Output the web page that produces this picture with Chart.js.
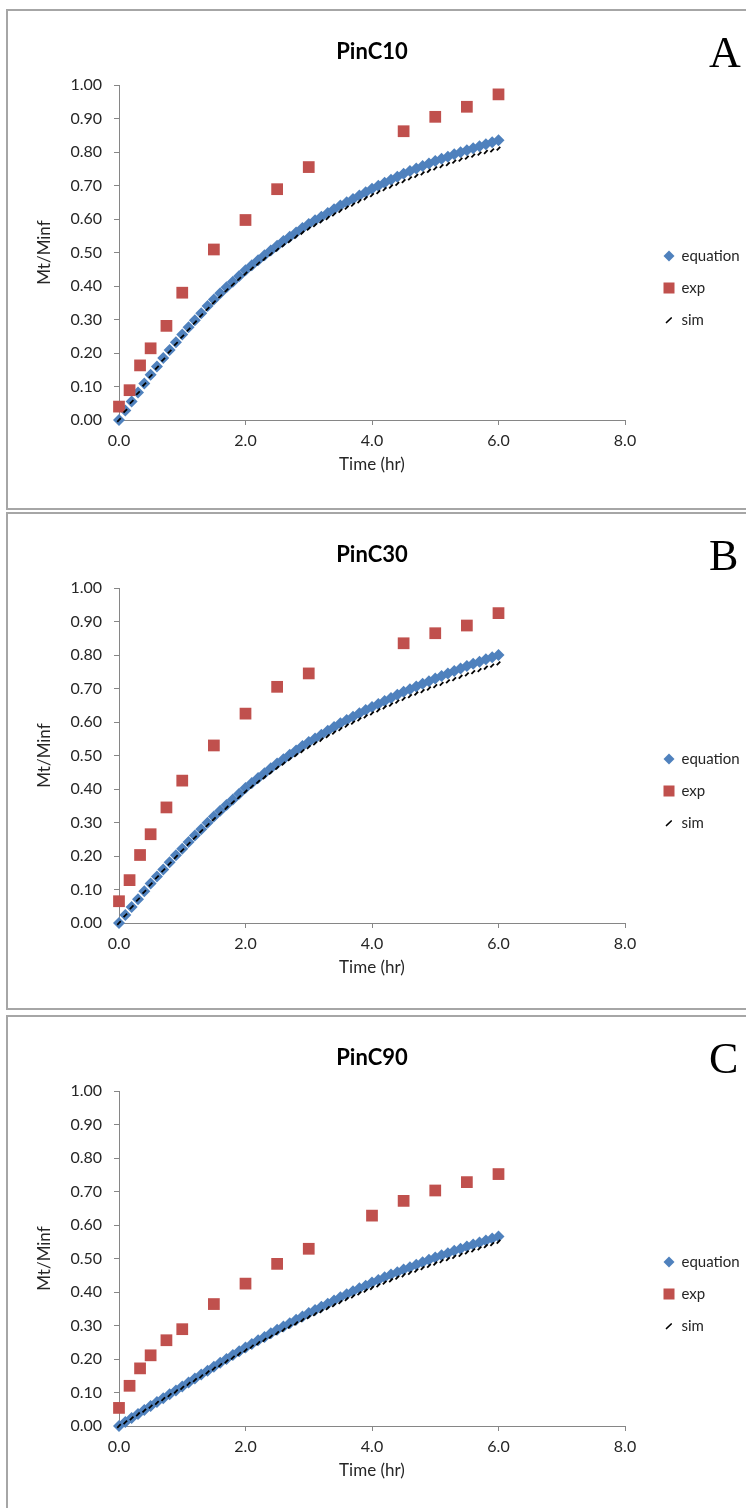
<!DOCTYPE html>
<html><head><meta charset="utf-8">
<script src="https://cdn.jsdelivr.net/npm/chart.js@4.4.1/dist/chart.umd.min.js"></script>
<style>
html,body{margin:0;padding:0;background:#fff;width:746px;height:1508px;overflow:hidden;position:relative;}
.frame{position:absolute;left:6px;width:800px;border:2px solid #a6a6a6;box-sizing:border-box;}
.cv{position:absolute;left:8px;}
.letter{position:absolute;left:709px;font-family:"Liberation Serif","DejaVu Serif",serif;font-size:44px;line-height:44px;color:#000;}
</style></head><body>
<div class="frame" style="top:9px;height:501px;"></div>
<div class="frame" style="top:512px;height:498px;"></div>
<div class="frame" style="top:1015px;height:520px;"></div>
<canvas id="cA" class="cv" width="760" height="499" style="top:10px"></canvas>
<canvas id="cB" class="cv" width="760" height="496" style="top:513px"></canvas>
<canvas id="cC" class="cv" width="760" height="492" style="top:1016px"></canvas>
<div class="letter" style="top:31px">A</div>
<div class="letter" style="top:534px">B</div>
<div class="letter" style="top:1037px">C</div>
<script>
const timeEq = [0,0.1,0.2,0.3,0.4,0.5,0.6,0.7,0.8,0.9,1.0,1.1,1.2,1.3,1.4,1.5,1.6,1.7,1.8,1.9,2.0,
  2.1,2.2,2.3,2.4,2.5,2.6,2.7,2.8,2.9,3.0,3.1,3.2,3.3,3.4,3.5,3.6,3.7,3.8,3.9,4.0,
  4.1,4.2,4.3,4.4,4.5,4.6,4.7,4.8,4.9,5.0,5.1,5.2,5.3,5.4,5.5,5.6,5.7,5.8,5.9,6.0];

const eqA = [0,0.028,0.055,0.082,0.109,0.135,
  0.160,0.185,0.209,0.232,0.255, 0.277,0.298,0.319,0.340,0.360,
  0.378,0.396,0.413,0.430,0.447, 0.462,0.477,0.492,0.506,0.520,
  0.534,0.547,0.560,0.573,0.585, 0.596,0.607,0.618,0.629,0.640,
  0.650,0.660,0.670,0.680,0.690, 0.699,0.708,0.717,0.726,0.735,
  0.743,0.751,0.758,0.766,0.773, 0.780,0.786,0.793,0.799,0.805,
  0.811,0.817,0.823,0.829,0.835];
const simA = [0,0.027,0.054,0.080,0.106,0.131,0.156,0.180,0.204,0.227,0.249,
  0.270,0.291,0.312,0.332,0.351, 0.369,0.387,0.404,0.421,0.437,
  0.452,0.467,0.481,0.495,0.508, 0.521,0.534,0.547,0.559,0.571,
  0.582,0.593,0.603,0.614,0.624, 0.634,0.643,0.653,0.662,0.671,
  0.680,0.689,0.697,0.705,0.713, 0.721,0.729,0.736,0.744,0.751,
  0.758,0.764,0.771,0.777,0.783, 0.789,0.795,0.800,0.805,0.810];
const expTimeA = [0,0.167,0.333,0.5,0.75,1,1.5,2,2.5,3,4.5,5,5.5,6];
const expA = [0.040,0.089,0.163,0.214,0.281,0.380,0.509,0.597,0.689,0.755,0.862,0.905,0.935,0.972];

const eqB = [0,0.024,0.048,0.071,0.095,0.118,
  0.139,0.160,0.181,0.202,0.222, 0.242,0.261,0.280,0.299,0.318,
  0.335,0.352,0.369,0.386,0.403, 0.418,0.433,0.447,0.462,0.476,
  0.489,0.502,0.515,0.528,0.540, 0.551,0.562,0.574,0.585,0.596,
  0.606,0.616,0.626,0.636,0.645, 0.654,0.663,0.672,0.681,0.690,
  0.698,0.706,0.714,0.722,0.730, 0.737,0.745,0.752,0.760,0.767,
  0.774,0.780,0.787,0.793,0.800];
const simB = [0,0.023,0.047,0.070,0.093,0.115,0.136,0.157,0.177,0.197,0.217,
  0.236,0.255,0.274,0.292,0.310, 0.327,0.344,0.360,0.376,0.392,
  0.407,0.421,0.435,0.449,0.463, 0.476,0.489,0.501,0.513,0.525,
  0.536,0.547,0.558,0.568,0.579, 0.589,0.598,0.608,0.617,0.626,
  0.635,0.644,0.652,0.661,0.669, 0.677,0.685,0.692,0.700,0.707,
  0.714,0.721,0.728,0.735,0.742, 0.749,0.755,0.762,0.768,0.775];
const expTimeB = [0,0.167,0.333,0.5,0.75,1,1.5,2,2.5,3,4.5,5,5.5,6];
const expB = [0.065,0.128,0.203,0.265,0.345,0.425,0.530,0.625,0.705,0.745,0.835,0.865,0.888,0.925];

const eqC = [0,0.012,0.024,0.036,0.048,0.060,
  0.072,0.083,0.095,0.106,0.118, 0.130,0.142,0.154,0.165,0.177,
  0.189,0.200,0.212,0.223,0.234, 0.245,0.256,0.266,0.277,0.287,
  0.297,0.307,0.317,0.327,0.337, 0.346,0.356,0.365,0.375,0.384,
  0.393,0.402,0.411,0.419,0.428, 0.436,0.444,0.452,0.459,0.467,
  0.474,0.481,0.489,0.496,0.503, 0.510,0.516,0.523,0.529,0.536,
  0.542,0.548,0.554,0.560,0.566];
const simC = [0,0.011,0.023,0.035,0.046,0.058,0.069,0.080,0.092,0.103,0.114,
  0.126,0.137,0.148,0.160,0.171, 0.182,0.193,0.204,0.215,0.226,
  0.237,0.247,0.257,0.267,0.277, 0.287,0.297,0.306,0.316,0.325,
  0.334,0.343,0.352,0.361,0.370, 0.379,0.387,0.396,0.404,0.412,
  0.420,0.428,0.435,0.443,0.450, 0.457,0.464,0.471,0.478,0.485,
  0.492,0.498,0.505,0.511,0.518, 0.524,0.530,0.537,0.543,0.550];
const expTimeC = [0,0.167,0.333,0.5,0.75,1,1.5,2,2.5,3,4,4.5,5,5.5,6];
const expC = [0.054,0.120,0.172,0.211,0.256,0.289,0.364,0.425,0.484,0.529,0.628,0.672,0.703,0.728,0.752];

const seriesNames = ['equation','exp','sim'];
const xAxisTitle = 'Time (hr)';
const yAxisTitle = 'Mt/Minf';

const AXIS = '#868686';
const TXT = '#262626';
const FONT = 'Lato, "Open Sans", sans-serif';
const BLUE = '#4F81BD', RED = '#C0504D', BLACK = '#000000';

function pts(xs, ys){ return xs.map((x,i)=>({x:x, y:ys[i]})); }

function iconCanvas(w,h,draw){ const c=document.createElement('canvas'); c.width=w; c.height=h; draw(c.getContext('2d')); return c; }
const legendIcons = [
  iconCanvas(12,12,g=>{g.fillStyle=BLUE; g.beginPath(); g.moveTo(6,0.5); g.lineTo(11.5,6); g.lineTo(6,11.5); g.lineTo(0.5,6); g.closePath(); g.fill();}),
  iconCanvas(12,12,g=>{g.fillStyle=RED; g.fillRect(0.5,0.5,11,11);}),
  iconCanvas(8,8,g=>{g.strokeStyle=BLACK; g.lineWidth=1.7; g.lineCap='round'; g.beginPath(); g.moveTo(1.5,6.5); g.lineTo(6.2,2); g.stroke();})
];

function makeChart(id, title, eq, sim, expT, expV){
  const cv = document.getElementById(id);
  const H = cv.height;
  new Chart(cv, {
    type: 'scatter',
    data: { datasets: [
      {label: seriesNames[0], data: pts(timeEq, eq), pointStyle:'rectRot', pointRadius:6, pointHoverRadius:6,
       backgroundColor:BLUE, borderColor:BLUE, borderWidth:0, order:2, clip:false},
      {label: seriesNames[1], data: pts(expT, expV), pointStyle:'rect', pointRadius:8.3, pointHoverRadius:8.3,
       backgroundColor:RED, borderColor:RED, borderWidth:0, order:1, clip:false},
      {label: seriesNames[2], data: pts(timeEq, sim), pointStyle:'line', pointRadius:2.5, pointHoverRadius:2.5, pointRotation:-45,
       backgroundColor:BLACK, borderColor:BLACK, borderWidth:1.8, order:0, clip:false}
    ]},
    options: {
      responsive:false, animation:false, devicePixelRatio:1,
      layout:{padding:{left:10, right:26, top:0, bottom:H-465}},
      plugins:{
        tooltip:{enabled:false},
        title:{display:true, text:title, fullSize:false, color:'#000',
          font:{family:FONT, size:22, weight:'bold'}, padding:{top:28.8, bottom:19.8}},
        legend:{display:true, position:'right', align:'start', fullSize:false, maxWidth:95,
          title:{display:true, text:'', font:{size:1, lineHeight:1}, padding:{top:145.5, bottom:0}},
          labels:{usePointStyle:true, boxWidth:10, boxHeight:9, padding:17, color:TXT,
            font:{family:FONT, size:15},
            sort:(a,b)=>a.datasetIndex-b.datasetIndex,
            generateLabels:(chart)=>{
              const items = Chart.defaults.plugins.legend.labels.generateLabels(chart);
              items.forEach(it=>{ it.pointStyle = legendIcons[it.datasetIndex]; it.rotation = 0; });
              return items;
            }}}
      },
      scales:{
        x:{type:'linear', min:0, max:8,
          grid:{display:true, drawOnChartArea:false, drawTicks:true, tickLength:5, color:AXIS},
          border:{display:true, color:AXIS, width:1},
          ticks:{stepSize:2, padding:6, color:TXT, font:{family:FONT, size:16}, maxRotation:0, autoSkip:false,
            callback:(v)=>Number(v).toFixed(1)},
          title:{display:true, text:xAxisTitle, color:TXT, font:{family:FONT, size:17}, padding:{top:0,bottom:0}},
          afterFit:(s)=>{s.height=55;}
        },
        y:{type:'linear', min:0, max:1,
          grid:{display:true, drawOnChartArea:false, drawTicks:true, tickLength:5, color:AXIS},
          border:{display:true, color:AXIS, width:1},
          ticks:{stepSize:0.1, padding:12, color:TXT, font:{family:FONT, size:16}, autoSkip:false,
            callback:(v)=>Number(v).toFixed(2)},
          title:{display:true, text:yAxisTitle, color:TXT, font:{family:FONT, size:17}, padding:{top:16.8,bottom:0}},
          afterFit:(s)=>{s.width=101;}
        },
        yR:{type:'linear', position:'right', display:true,
          grid:{display:false, drawTicks:false}, border:{display:false}, ticks:{display:false},
          afterFit:(s)=>{s.width=22;}
        }
      }
    }
  });
}

makeChart('cA','PinC10', eqA, simA, expTimeA, expA);
makeChart('cB','PinC30', eqB, simB, expTimeB, expB);
makeChart('cC','PinC90', eqC, simC, expTimeC, expC);
</script>
</body></html>
